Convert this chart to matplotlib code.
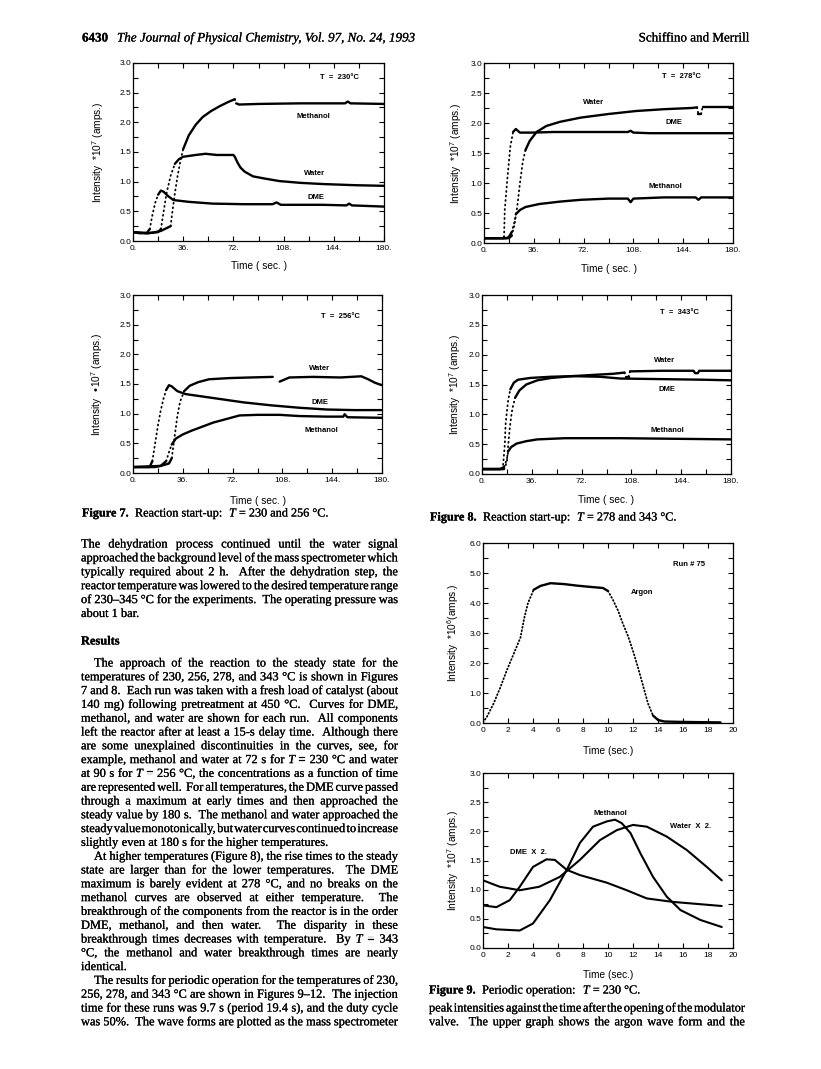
import matplotlib
matplotlib.use('Agg')
import matplotlib.pyplot as plt
import matplotlib.patheffects as pe
import numpy as np
from matplotlib.ticker import MultipleLocator

plt.rcParams['font.family'] = 'Liberation Sans'
plt.rcParams['mathtext.default'] = 'regular'

W, H = 821, 1069

# ---- tick labels ----
start_xticks = [0, 36, 72, 108, 144, 180]
start_xticklabels = ['0.', '36.', '72.', '108.', '144.', '180.']
start_yticks = [0.0, 0.5, 1.0, 1.5, 2.0, 2.5, 3.0]
start_yticklabels = ['0.0', '0.5', '1.0', '1.5', '2.0', '2.5', '3.0']
period_xticks = [0, 2, 4, 6, 8, 10, 12, 14, 16, 18, 20]
period_xticklabels = ['0', '2', '4', '6', '8', '10', '12', '14', '16', '18', '20']
argon_yticks = [0, 1, 2, 3, 4, 5, 6]
argon_yticklabels = ['0.0', '1.0', '2.0', '3.0', '4.0', '5.0', '6.0']

# ---- T = 230 C start-up ----
t230_dme = [0, 5, 10, 12, 14, 16, 18, 20, 22, 25, 29, 40, 57, 80, 100, 103, 106, 136, 153, 155, 157, 180]
v230_dme = [0.15, 0.13, 0.14, 0.2, 0.45, 0.65, 0.78, 0.85, 0.83, 0.76, 0.69, 0.66, 0.63, 0.62, 0.62, 0.65, 0.61, 0.61, 0.6, 0.63, 0.6, 0.58]
t230_water = [0, 10, 18, 20, 22, 24, 27, 30, 33, 36, 45, 52, 60, 72, 73, 75, 77, 80, 86, 95, 105, 120, 136, 160, 180]
v230_water = [0.15, 0.13, 0.15, 0.2, 0.5, 0.8, 1.1, 1.3, 1.38, 1.42, 1.45, 1.47, 1.45, 1.45, 1.42, 1.32, 1.24, 1.17, 1.09, 1.05, 1.01, 0.98, 0.96, 0.94, 0.93]
t230_meoh = [0, 10, 14, 20, 27, 28, 30, 32, 34, 36, 40, 45, 50, 56, 62, 68, 73, 74, 76, 90, 120, 152, 154, 156, 180]
v230_meoh = [0.15, 0.13, 0.14, 0.17, 0.25, 0.45, 0.8, 1.1, 1.35, 1.55, 1.78, 1.96, 2.09, 2.19, 2.27, 2.34, 2.39, 2.32, 2.3, 2.31, 2.32, 2.32, 2.35, 2.32, 2.31]

# ---- T = 278 C start-up ----
t278_dme = [0, 14, 14.5, 15, 17, 19, 21, 23, 26, 35, 50, 80, 104, 106, 108, 120, 180]
v278_dme = [0.08, 0.08, 0.1, 0.55, 1.1, 1.6, 1.85, 1.9, 1.84, 1.84, 1.85, 1.85, 1.85, 1.87, 1.84, 1.83, 1.83]
t278_water = [0, 18, 20, 22, 24, 26, 28, 30, 33, 38, 45, 55, 70, 90, 110, 130, 150, 154, 155, 157, 158, 180]
v278_water = [0.08, 0.08, 0.12, 0.3, 0.6, 1.0, 1.35, 1.55, 1.7, 1.85, 1.95, 2.02, 2.09, 2.15, 2.2, 2.23, 2.25, 2.26, 2.15, 2.15, 2.27, 2.27]
t278_meoh = [0, 16, 18, 20, 22, 23, 26, 30, 40, 55, 70, 90, 104, 106, 108, 130, 153, 155, 157, 180]
v278_meoh = [0.08, 0.08, 0.1, 0.18, 0.35, 0.48, 0.55, 0.6, 0.65, 0.69, 0.72, 0.74, 0.74, 0.68, 0.74, 0.76, 0.76, 0.72, 0.76, 0.76]

# ---- T = 256 C start-up ----
t256_dme = [0, 12, 14, 16, 18, 20, 22, 24, 26, 28, 32, 38, 50, 65, 80, 100, 120, 140, 160, 180]
v256_dme = [0.1, 0.1, 0.2, 0.5, 0.8, 1.05, 1.25, 1.4, 1.48, 1.46, 1.38, 1.33, 1.29, 1.24, 1.19, 1.14, 1.1, 1.07, 1.06, 1.06]
t256_water = [0, 20, 26, 28, 30, 32, 34, 37, 41, 47, 55, 70, 85, 101, 103, 106, 113, 130, 150, 165, 170, 175, 180]
v256_water = [0.1, 0.12, 0.16, 0.25, 0.6, 0.95, 1.2, 1.38, 1.47, 1.53, 1.58, 1.6, 1.61, 1.62, np.nan, 1.54, 1.61, 1.62, 1.61, 1.63, 1.58, 1.52, 1.48]
t256_meoh = [0, 16, 20, 24, 26, 28, 31, 36, 42, 50, 58, 66, 77, 90, 106, 120, 140, 152, 153, 155, 180]
v256_meoh = [0.1, 0.1, 0.12, 0.2, 0.35, 0.48, 0.58, 0.65, 0.71, 0.78, 0.85, 0.9, 0.97, 0.98, 0.98, 0.96, 0.95, 0.95, 0.99, 0.94, 0.93]

# ---- T = 343 C start-up ----
t343_dme = [0, 15, 16.5, 17, 18, 19, 20.5, 23, 26, 35, 50, 66, 85, 100, 130, 160, 180]
v343_dme = [0.08, 0.08, 0.5, 0.82, 1.05, 1.25, 1.42, 1.53, 1.58, 1.61, 1.63, 1.64, 1.63, 1.6, 1.59, 1.58, 1.57]
t343_water = [0, 16, 18, 19, 20, 21, 22, 24, 27, 32, 40, 50, 65, 80, 95, 103, 104, 106, 107, 130, 153, 154, 156, 157, 180]
v343_water = [0.08, 0.08, 0.2, 0.5, 0.75, 0.95, 1.1, 1.28, 1.4, 1.5, 1.57, 1.61, 1.64, 1.66, 1.68, 1.7, 1.63, 1.63, 1.72, 1.73, 1.73, 1.69, 1.69, 1.73, 1.73]
t343_meoh = [0, 13, 16, 18, 19, 21, 25, 32, 40, 60, 100, 140, 180]
v343_meoh = [0.08, 0.08, 0.12, 0.25, 0.38, 0.45, 0.51, 0.55, 0.58, 0.6, 0.6, 0.59, 0.58]

# ---- Run # 75, argon pulse ----
t_argon = [0, 0.3, 0.85, 1.4, 1.9, 2.45, 3.0, 3.3, 3.6, 4.05, 4.6, 5.4, 6.5, 7.5, 8.5, 9.6, 10.0, 10.4, 10.8,
           11.2, 11.6, 12.0, 12.4, 12.8, 13.2, 13.6, 14.0, 14.5, 15.5, 17.0, 19.0]
v_argon = [0.02, 0.2, 0.65, 1.2, 1.75, 2.3, 2.85, 3.5, 4.0, 4.44, 4.57, 4.66, 4.63, 4.58, 4.54, 4.5, 4.4, 4.1, 3.75,
           3.3, 2.9, 2.4, 1.85, 1.25, 0.65, 0.25, 0.1, 0.05, 0.04, 0.03, 0.02]

# ---- periodic operation, T = 230 C ----
t_per_meoh = [0, 1.07, 2.94, 4.0, 5.35, 6.7, 7.75, 8.8, 9.9, 10.56, 11.1, 11.8, 12.6, 13.6, 14.7, 15.8, 17.4, 19.1]
v_per_meoh = [0.36, 0.32, 0.3, 0.42, 0.82, 1.34, 1.8, 2.08, 2.17, 2.2, 2.14, 1.97, 1.62, 1.22, 0.88, 0.65, 0.48, 0.36]
t_per_water = [0, 1.34, 2.94, 4.5, 6.15, 7.75, 9.36, 10.7, 12.0, 13.1, 14.7, 16.3, 17.9, 19.1]
v_per_water = [1.16, 1.05, 0.99, 1.05, 1.22, 1.51, 1.85, 2.02, 2.11, 2.08, 1.91, 1.68, 1.39, 1.16]
t_per_dme = [0, 1.07, 2.14, 2.94, 4.0, 5.08, 5.75, 6.7, 7.75, 9.9, 11.5, 13.1, 15.2, 19.1]
v_per_dme = [0.73, 0.7, 0.82, 1.05, 1.39, 1.52, 1.51, 1.34, 1.25, 1.12, 0.99, 0.85, 0.79, 0.72]

# ---- page text ----
header_left = 'The Journal of Physical Chemistry, Vol. 97, No. 24, 1993'
para1 = [
    "The dehydration process continued until the water signal",
    "approached the background level of the mass spectrometer which",
    "typically required about 2 h.  After the dehydration step, the",
    "reactor temperature was lowered to the desired temperature range",
    "of 230\u2013345 \u00b0C for the experiments.  The operating pressure was",
    "about 1 bar.",
]
para2 = [
    "The approach of the reaction to the steady state for the",
    "temperatures of 230, 256, 278, and 343 \u00b0C is shown in Figures",
    "7 and 8.  Each run was taken with a fresh load of catalyst (about",
    "140 mg) following pretreatment at 450 \u00b0C.  Curves for DME,",
    "methanol, and water are shown for each run.  All components",
    "left the reactor after at least a 15-s delay time.  Although there",
    "are some unexplained discontinuities in the curves, see, for",
    "example, methanol and water at 72 s for T = 230 \u00b0C and water",
    "at 90 s for T = 256 \u00b0C, the concentrations as a function of time",
    "are represented well.  For all temperatures, the DME curve passed",
    "through a maximum at early times and then approached the",
    "steady value by 180 s.  The methanol and water approached the",
    "steady value monotonically, but water curves continued to increase",
    "slightly even at 180 s for the higher temperatures.",
]
para3 = [
    "At higher temperatures (Figure 8), the rise times to the steady",
    "state are larger than for the lower temperatures.  The DME",
    "maximum is barely evident at 278 \u00b0C, and no breaks on the",
    "methanol curves are observed at either temperature.  The",
    "breakthrough of the components from the reactor is in the order",
    "DME, methanol, and then water.  The disparity in these",
    "breakthrough times decreases with temperature.  By T = 343",
    "\u00b0C, the methanol and water breakthrough times are nearly",
    "identical.",
]
para4 = [
    "The results for periodic operation for the temperatures of 230,",
    "256, 278, and 343 \u00b0C are shown in Figures 9\u201312.  The injection",
    "time for these runs was 9.7 s (period 19.4 s), and the duty cycle",
    "was 50%.  The wave forms are plotted as the mass spectrometer",
]
para_right = [
    "peak intensities against the time after the opening of the modulator",
    "valve.  The upper graph shows the argon wave form and the",
]

fig = plt.figure(figsize=(W / 100, H / 100), dpi=100)
fig.patch.set_facecolor('white')
renderer = fig.canvas.get_renderer()


def panel(box, xlim, ylim, xt, xtl, xminor, yt, ytl, yminor, ylab, ylab_dx, xlab, xlab_dy):
    l, t, r, b = box
    ax = fig.add_axes([l / W, 1 - b / H, (r - l) / W, (b - t) / H])
    ax.set_xlim(xlim)
    ax.set_ylim(ylim)
    ax.set_xticks(xt, xtl)
    ax.set_yticks(yt, ytl)
    if xminor:
        ax.xaxis.set_minor_locator(MultipleLocator(xminor))
    if yminor:
        ax.yaxis.set_minor_locator(MultipleLocator(yminor))
    ax.tick_params(which='both', direction='in', top=True, right=True, width=0.8,
                   length=3.5, labelsize=6)
    ax.tick_params(axis='y', pad=1)
    ax.tick_params(axis='x', pad=3)
    for s in ax.spines.values():
        s.set_linewidth(0.9)
    ax.text(ylab_dx / (r - l), 0.5, ylab, transform=ax.transAxes, rotation=90,
            ha='center', va='center', fontsize=7.3)
    ax.text(0.5, -xlab_dy / (b - t), xlab, transform=ax.transAxes,
            ha='center', va='center', fontsize=7.3)
    return ax


def trace(ax, t, v, steep_ratio=2.5, dots=(0.5, 2.0)):
    # densely sampled signal: steep parts read as dots, flat parts as a solid line
    t = np.asarray(t, float)
    v = np.asarray(v, float)
    x0, x1 = ax.get_xlim()
    y0, y1 = ax.get_ylim()
    bb = ax.get_position()
    sx = bb.width * W / (x1 - x0)
    sy = bb.height * H / (y1 - y0)
    steep = np.abs(np.diff(v) * sy) > steep_ratio * np.abs(np.diff(t) * sx)
    start = 0
    for i in range(1, len(steep) + 1):
        if i == len(steep) or steep[i] != steep[start]:
            seg = slice(start, i + 1)
            if steep[start]:
                ax.plot(t[seg], v[seg], color='k', lw=1.3, ls=(0, dots),
                        dash_capstyle='round')
            else:
                ax.plot(t[seg], v[seg], color='k', lw=1.7, solid_capstyle='round')
            start = i


def smooth(ax, t, v):
    ax.plot(t, v, color='k', lw=1.5, solid_capstyle='round')


def tag(ax, x, y, s):
    ax.text(x, y, s, ha='center', va='center', fontsize=5.5, fontweight='bold')


ylab7 = 'Intensity  *10$^7$ (amps.)'
tsec = 'Time ( sec. )'

# Figure 7 / 8 start-up panels
ax = panel((133, 63, 384, 241), (0, 180), (0, 3), start_xticks, start_xticklabels, 18,
           start_yticks, start_yticklabels, 0.25, ylab7, -35, tsec, 25)
trace(ax, t230_dme, v230_dme)
trace(ax, t230_water, v230_water)
trace(ax, t230_meoh, v230_meoh)
tag(ax, 148, 2.75, 'T  =  230\u00b0C')
tag(ax, 129, 2.09, 'Methanol')
tag(ax, 130, 1.14, 'Water')
tag(ax, 131, 0.73, 'DME')

ax = panel((484, 63, 733, 243), (0, 180), (0, 3), start_xticks, start_xticklabels, 18,
           start_yticks, start_yticklabels, 0.25, ylab7, -28, tsec, 26)
trace(ax, t278_dme, v278_dme)
trace(ax, t278_water, v278_water)
trace(ax, t278_meoh, v278_meoh)
tag(ax, 143, 2.77, 'T  =  278\u00b0C')
tag(ax, 79, 2.34, 'Water')
tag(ax, 137, 2.0, 'DME')
tag(ax, 131, 0.95, 'Methanol')

ax = panel((133, 295, 382, 473), (0, 180), (0, 3), start_xticks, start_xticklabels, 18,
           start_yticks, start_yticklabels, 0.25, 'Intensity  \u202210$^7$ (amps.)', -36, tsec, 28)
trace(ax, t256_dme, v256_dme)
trace(ax, t256_water, v256_water)
trace(ax, t256_meoh, v256_meoh)
tag(ax, 150, 2.63, 'T  =  256\u00b0C')
tag(ax, 135, 1.76, 'Water')
tag(ax, 135, 1.19, 'DME')
tag(ax, 136, 0.72, 'Methanol')

ax = panel((482, 295, 731, 474), (0, 180), (0, 3), start_xticks, start_xticklabels, 18,
           start_yticks, start_yticklabels, 0.25, ylab7, -27, tsec, 26)
trace(ax, t343_dme, v343_dme)
trace(ax, t343_water, v343_water)
trace(ax, t343_meoh, v343_meoh)
tag(ax, 143, 2.71, 'T  =  343\u00b0C')
tag(ax, 132, 1.9, 'Water')
tag(ax, 134, 1.42, 'DME')
tag(ax, 134, 0.73, 'Methanol')

# Figure 9 panels
ax = panel((483, 543, 733, 723), (0, 20), (0, 6), period_xticks, period_xticklabels, None,
           argon_yticks, argon_yticklabels, 0.5, 'Intensity  *10$^6$(amps.)', -30, 'Time (sec.)', 28)
trace(ax, t_argon, v_argon, steep_ratio=1.0, dots=(0.5, 1.4))
tag(ax, 16.45, 5.27, 'Run # 75')
tag(ax, 12.7, 4.36, 'Argon')

ax = panel((483, 773, 733, 948), (0, 20), (0, 3), period_xticks, period_xticklabels, None,
           start_yticks, start_yticklabels, 0.25, ylab7, -30, 'Time (sec.)', 27)
smooth(ax, t_per_meoh, v_per_meoh)
smooth(ax, t_per_water, v_per_water)
smooth(ax, t_per_dme, v_per_dme)
tag(ax, 10.2, 2.31, 'Methanol')
tag(ax, 16.6, 2.08, 'Water  X  2.')
tag(ax, 3.6, 1.63, 'DME  X  2.')

# ---- page text ----
SERIF = 'Liberation Serif'
INK = [pe.withStroke(linewidth=0.15, foreground='black')]


def text_width(s, size, **kw):
    t = fig.text(0, 0, s, family=SERIF, fontsize=size, **kw)
    w = t.get_window_extent(renderer).width
    t.remove()
    return w


def runs(x, y, parts, size):
    for s, kw in parts:
        fig.text(x / W, 1 - y / H, s, va='baseline', ha='left', family=SERIF, fontsize=size,
                 path_effects=INK, **kw)
        x += text_width(s, size, **kw)


def measure(tokens, size):
    return [text_width(tk, size, **({'style': 'italic'} if tk == 'T' else {})) if tk else 0.0
            for tk in tokens]


def fit_size(blocks, width, ref=10.0, min_gap=1.2, cap=9.6):
    best = cap
    for lines, indent in blocks:
        for k, line in enumerate(lines[:-1]):
            tokens = line.split(' ')
            ws = sum(measure(tokens, ref))
            room = width - (indent if k == 0 else 0) - min_gap * (len(tokens) - 1)
            best = min(best, ref * room / ws)
    return best


def justify(lines, x0, x1, y0, dy, size, indent=0.0, last_free=True):
    for k, line in enumerate(lines):
        tokens = line.split(' ')
        ws = measure(tokens, size)
        left = x0 + (indent if k == 0 else 0.0)
        gaps = len(tokens) - 1
        if k == len(lines) - 1 and last_free:
            gap = size * 0.25 * 100 / 72
        else:
            gap = (x1 - left - sum(ws)) / max(gaps, 1)
        x = left
        for tk, w in zip(tokens, ws):
            if tk:
                style = {'style': 'italic'} if tk == 'T' else {}
                fig.text(x / W, 1 - (y0 + k * dy) / H, tk, va='baseline', ha='left',
                         family=SERIF, fontsize=size, path_effects=INK, **style)
            x += w + gap


LX0, LX1 = 81, 398
RX0, RX1 = 429, 745
DY = 13.8
BASE = 3.5
BODY = fit_size([(para1, 0), (para2, 13), (para3, 13), (para4 + ['x'], 13)], LX1 - LX0)

runs(82, 38 + BASE, [('6430', {'fontweight': 'bold'})], 9.4)
fig.text(117 / W, 1 - (38 + BASE) / H, header_left, family=SERIF, style='italic',
         fontsize=9.4, va='baseline', ha='left', path_effects=INK)
fig.text(748 / W, 1 - (38 + BASE) / H, 'Schiffino and Merrill', family=SERIF,
         fontsize=9.4, va='baseline', ha='right', path_effects=INK)

justify(para1, LX0, LX1, 544 + BASE, 13.9, BODY, last_free=True)
runs(LX0, 641 + BASE, [('Results', {'fontweight': 'bold'})], BODY)
y = 663 + BASE
justify(para2, LX0, LX1, y, DY, BODY, indent=13)
y += DY * len(para2)
justify(para3, LX0, LX1, y, DY, BODY, indent=13)
y += DY * len(para3)
justify(para4, LX0, LX1, y, DY, BODY, indent=13, last_free=False)
justify(para_right, RX0, RX1, 1008 + BASE, DY, BODY, last_free=False)

CAP = 8.8
runs(82, 513 + BASE, [('Figure 7.', {'fontweight': 'bold'}), ('  Reaction start-up:  ', {}),
                      ('T', {'style': 'italic'}), (' = 230 and 256 \u00b0C.', {})], CAP)
runs(430, 517 + BASE, [('Figure 8.', {'fontweight': 'bold'}), ('  Reaction start-up:  ', {}),
                       ('T', {'style': 'italic'}), (' = 278 and 343 \u00b0C.', {})], CAP)
runs(429, 990 + BASE, [('Figure 9.', {'fontweight': 'bold'}), ('  Periodic operation:  ', {}),
                       ('T', {'style': 'italic'}), (' = 230 \u00b0C.', {})], CAP)

fig.savefig('out.png', dpi=100, facecolor='white')
